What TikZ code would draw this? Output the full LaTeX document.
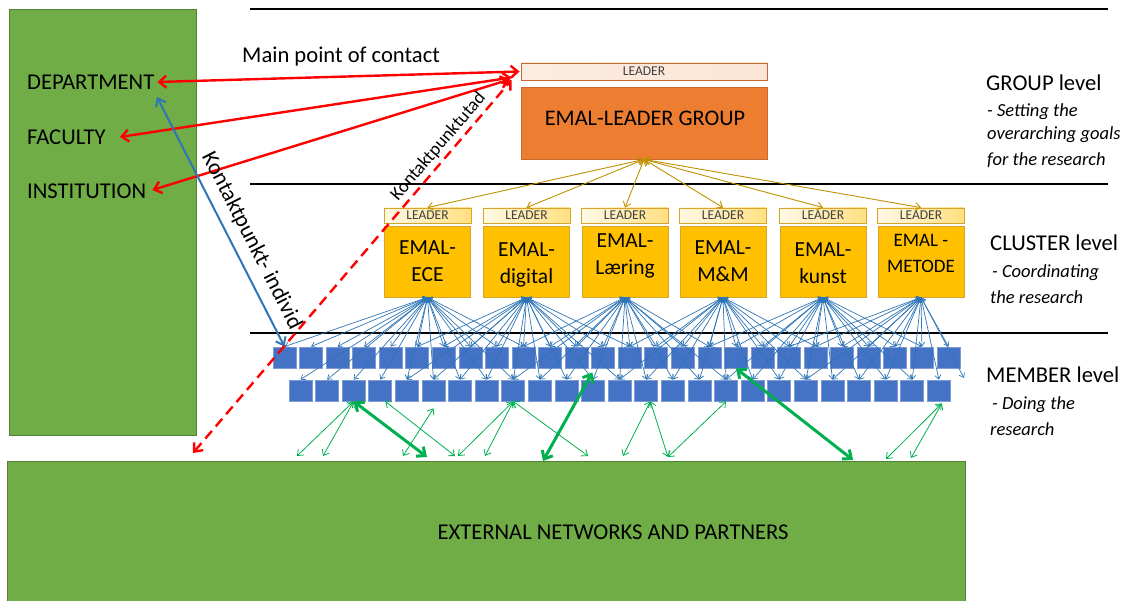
\documentclass[tikz,border=0pt]{standalone}
\usepackage{fontspec}
\setmainfont{Carlito}
\usetikzlibrary{arrows.meta,calc}
\definecolor{grn}{HTML}{70AD47}
\definecolor{grnb}{HTML}{548235}
\definecolor{org}{HTML}{ED7D31}
\definecolor{orgb}{HTML}{C9692F}
\definecolor{gld}{HTML}{FFC000}
\definecolor{gldb}{HTML}{D6A52A}
\definecolor{goldar}{HTML}{BF9000}
\definecolor{sqf}{HTML}{4472C4}
\definecolor{sqb}{HTML}{7F9BD5}
\definecolor{blu}{HTML}{2E75B6}
\definecolor{gar}{HTML}{00B050}
\begin{document}
\begin{tikzpicture}[x=1pt,y=-1pt,
  lbl/.style={inner sep=2pt,font=\fontsize{22.6}{26}\selectfont},
  itl/.style={inner sep=2pt,font=\fontsize{18.5}{21}\selectfont\itshape},
  sq/.style={fill=sqf,draw=sqb,line width=0.8pt,minimum width=23pt,minimum height=21pt,inner sep=0pt},
  cbox/.style={fill=gld,draw=gldb,line width=0.8pt,minimum width=86pt,minimum height=71pt,inner sep=0pt},
  cbar/.style={left color=white!90!gld,right color=white!50!gld,draw=gldb,line width=0.8pt,minimum width=87pt,minimum height=15pt,inner sep=0pt,text=black!75,font=\fontsize{13.5}{14}\selectfont},
  ctext/.style={align=center,inner sep=0pt,font=\fontsize{21.5}{27}\selectfont},
  redarr/.style={red,line width=2.4pt,{Straight Barb[length=7pt,width=12pt]}-{Straight Barb[length=7pt,width=12pt]}},
  fan/.style={blu,line width=0.7pt,{Straight Barb[length=4pt,width=6pt]}-{Straight Barb[length=4pt,width=6pt]}},
  goldarr/.style={goldar,line width=0.9pt,{Straight Barb[length=5pt,width=8pt]}-{Straight Barb[length=5pt,width=8pt]}},
  gthin/.style={gar,line width=0.8pt,{Straight Barb[length=5pt,width=8pt]}-{Straight Barb[length=5pt,width=8pt]}},
  gthick/.style={gar,line width=3pt,{Straight Barb[length=7pt,width=12pt]}-{Straight Barb[length=7pt,width=12pt]}},
  hline/.style={black,line width=2.5pt}
]
\useasboundingbox (0,0) rectangle (1136,601);
% green areas
\node[fill=grn,draw=grnb,line width=0.8pt,minimum width=187pt,minimum height=426pt,inner sep=0pt,anchor=north west] (org) at (9,9) {};
\node[fill=grn,draw=grnb,line width=0.8pt,minimum width=958pt,minimum height=145pt,inner sep=0pt,anchor=north west] (ext) at (7,461) {};
\node[lbl] (extt) at (613,532) {EXTERNAL NETWORKS AND PARTNERS};
% horizontal level lines
\coordinate (h1a) at (250,9);   \coordinate (h1b) at (1108,9);
\coordinate (h2a) at (250,184); \coordinate (h2b) at (1108,184);
\coordinate (h3a) at (250,333); \coordinate (h3b) at (1108,333);
\draw[hline] (h1a) -- (h1b);
\draw[hline] (h2a) -- (h2b);
\draw[hline] (h3a) -- (h3b);
% left labels
\node[lbl,anchor=west] (dept) at (25,82) {DEPARTMENT};
\node[lbl,anchor=west] (fac) at (25,137) {FACULTY};
\node[lbl,anchor=west] (inst) at (25,191) {INSTITUTION};
\node[lbl,anchor=west] (mpc) at (240,57) {Main point of contact};
% group level
\node[left color=white!85!org,middle color=white!40!org,right color=white!80!org,draw=orgb,line width=0.8pt,minimum width=246pt,minimum height=17pt,inner sep=0pt,text=black!75,font=\fontsize{13.5}{14}\selectfont] (lead) at (644,71.5) {LEADER};
\node[fill=org,draw=orgb,line width=0.8pt,minimum width=246pt,minimum height=72pt,inner sep=0pt] (grp) at (644,123) {};
\node[inner sep=0pt,font=\fontsize{22.3}{25}\selectfont] (grpt) at (645,118) {EMAL-LEADER GROUP};
% right labels
\node[lbl,anchor=west] (gl) at (984,83) {GROUP level};
\node[itl,anchor=west] (gl1) at (985,112) {- Setting the};
\node[itl,anchor=west] (gl2) at (985,135) {overarching goals};
\node[itl,anchor=west] (gl3) at (985,160) {for the research};
\node[lbl,anchor=west] (cl) at (988,243) {CLUSTER level};
\node[itl,anchor=west] (cl1) at (990,273) {- Coordinating};
\node[itl,anchor=west] (cl2) at (988,297) {the research};
\node[lbl,anchor=west] (ml) at (984,375) {MEMBER level};
\node[itl,anchor=west] (ml1) at (990,405) {- Doing the};
\node[itl,anchor=west] (ml2) at (988,429) {research};
% clusters
\foreach \i/\x/\ty/\tx in {1/427.5/261/{EMAL-\\ECE},2/526.5/265/{EMAL-\\digital},3/625/256/{EMAL-\\Læring},4/723/261/{EMAL-\\M\&M},5/823/263/{EMAL-\\kunst}}{
  \node[cbar] (l\i) at (\x,215.5) {LEADER};
  \node[cbox] (c\i) at (\x,261.5) {};
  \node[ctext] (t\i) at (\x,\ty) {\tx};
}
\node[cbar] (l6) at (921,215.5) {LEADER};
\node[cbox] (c6) at (921,261.5) {};
\node[align=center,inner sep=0pt,font=\fontsize{19}{26}\selectfont] (t6) at (921,253) {EMAL -\\METODE};
% member squares
\foreach \k in {1,...,26} \node[sq] (r1-\k) at ({284.5+26.56*(\k-1)},357.5) {};
\foreach \k in {1,...,25} \node[sq] (r2-\k) at ({300.5+26.6*(\k-1)},390.5) {};
% gold arrows
\foreach \i in {1,...,6} \draw[goldarr] (grp.south) -- (l\i.north);
% blue fans
\foreach \h/\a/\b/\c/\d in {1/1/10/1/9,2/6/14/5/13,3/10/17/9/17,4/14/21/13/20,5/17/25/17/24,6/20/26/20/25}{
  \foreach \k in {\a,...,\b} \draw[fan] (c\h.south) -- (r1-\k.north);
  \foreach \k in {\c,...,\d} \draw[fan] (c\h.south) -- (r2-\k.north);
}
\coordinate (x6) at (964,378);
\draw[fan] (c6.south) -- (x6);
% green arrows
\coordinate (g1) at (297,456); \coordinate (g2) at (323,456); \coordinate (g3) at (427,457);
\coordinate (g4) at (455,456); \coordinate (g5) at (403,456); \coordinate (g6) at (458,456);
\coordinate (g7) at (485,456); \coordinate (g8) at (588,456); \coordinate (g9) at (543,461);
\coordinate (g10) at (623,456); \coordinate (g11) at (668,457); \coordinate (g12) at (853,460);
\coordinate (g13) at (886,459); \coordinate (g14) at (911,458);
\draw[gthin] (g1) -- (r2-3.south);
\draw[gthin] (g2) -- (r2-3.south);
\draw[gthick] (g3) -- (r2-3.south);
\draw[gthin] (g4) -- ($(r2-4.south)+(5,0)$);
\draw[gthin] (g5) -- ($(r2-6.south)+(0,7)$);
\draw[gthin] (g6) -- (r2-9.south);
\draw[gthin] (g7) -- (r2-9.south);
\draw[gthin] (g8) -- (r2-9.south);
\draw[gthick] (g9) -- ($(r1-13.south west)+(1,4)$);
\draw[gthin] (g10) -- ($(r2-14.south)+(4,0)$);
\draw[gthin] (g11) -- ($(r2-14.south)+(4,0)$);
\draw[gthin] (g11) -- (r2-17.south);
\draw[gthick] (g12) -- (r1-18.south);
\draw[gthin] (g13) -- ($(r2-25.south)+(3,2)$);
\draw[gthin] (g14) -- ($(r2-25.south)+(3,2)$);
% red contact arrows
\draw[redarr] ($(dept.east)+(1,0)$) -- ($(lead.west)+(-1,0)$);
\draw[redarr] ($(fac.east)+(12,0)$) -- ($(lead.west)+(-9,6)$);
\draw[redarr] ($(inst.east)+(4,-1)$) -- ($(lead.west)+(-11,8)$);
% blue individual contact
\coordinate (kb) at (157,97);
\draw[blu,line width=2pt,{Straight Barb[length=7pt,width=11pt]}-{Straight Barb[length=7pt,width=11pt]}] (kb) -- (r1-1.north) node[pos=0.61,sloped,above=5pt,font=\fontsize{22.5}{24}\selectfont,text=black] (kti) {Kontaktpunkt- individ};
% red dashed external contact
\coordinate (kd) at (193,453);
\draw[redarr,dash pattern=on 10pt off 6pt] (kd) -- ($(lead.west)+(-9,8.5)$) node[pos=0.8,sloped,above=0pt,font=\fontsize{18.5}{20}\selectfont,text=black] (ktu) {Kontaktpunktutad};
\end{tikzpicture}
\end{document}
